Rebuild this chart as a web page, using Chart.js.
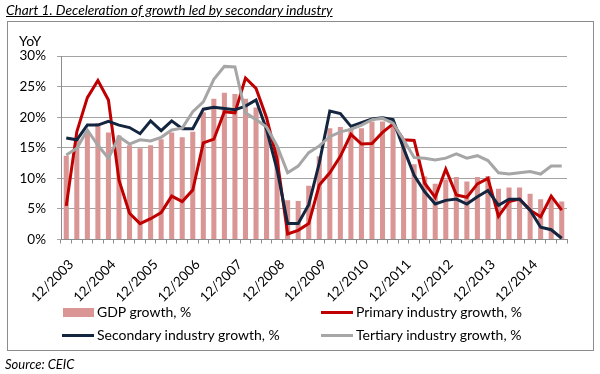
<!DOCTYPE html>
<html>
<head>
<meta charset="utf-8">
<script src="https://cdn.jsdelivr.net/npm/chart.js@4.4.1/dist/chart.umd.min.js"></script>
<style>
    body { margin: 0; background: #fff; font-family: Lato, sans-serif; color: #000; }
    #caixa { position: relative; width: 600px; height: 374px; overflow: hidden; }
    #moldura { position: absolute; left: 7px; top: 21px; width: 585px; height: 328px; border: 1px solid #8c8c8c; }
    #grafico { position: absolute; left: 0; top: 0; }
    #titulo { position: absolute; left: 6px; top: 1px; font-size: 13.7px; font-style: italic; text-decoration: underline; white-space: nowrap; }
    #yoy { position: absolute; left: 19px; top: 32px; font-size: 14px; }
    #fonte { position: absolute; left: 5px; top: 356px; font-size: 13px; font-style: italic; }
    .leg { position: absolute; font-size: 14px; white-space: nowrap; line-height: 16px; }
    .amostra { position: absolute; }
</style>
</head>
<body>
<div id="caixa">
    <div id="moldura"></div>
    <canvas id="grafico" width="600" height="374"></canvas>
    <div id="titulo">Chart 1. Deceleration of growth led by secondary industry</div>
    <div id="yoy">YoY</div>

    <div class="amostra" style="left:63px; top:308px; width:31px; height:9px; background:#D99694;"></div>
    <div class="leg" style="left:97px; top:304px;">GDP growth, %</div>
    <div class="amostra" style="left:321px; top:311px; width:32px; height:3px; background:#C00000;"></div>
    <div class="leg" style="left:356px; top:304px;">Primary industry growth, %</div>
    <div class="amostra" style="left:62px; top:334px; width:32px; height:3px; background:#14253F;"></div>
    <div class="leg" style="left:97px; top:327px;">Secondary industry growth, %</div>
    <div class="amostra" style="left:321px; top:334px; width:32px; height:3px; background:#A6A6A6;"></div>
    <div class="leg" style="left:356px; top:327px;">Tertiary industry growth, %</div>

    <div id="fonte">Source: CEIC</div>
</div>
<script>
const trimestres = [
    '12/2003',
    '3/2004', '6/2004', '9/2004', '12/2004',
    '3/2005', '6/2005', '9/2005', '12/2005',
    '3/2006', '6/2006', '9/2006', '12/2006',
    '3/2007', '6/2007', '9/2007', '12/2007',
    '3/2008', '6/2008', '9/2008', '12/2008',
    '3/2009', '6/2009', '9/2009', '12/2009',
    '3/2010', '6/2010', '9/2010', '12/2010',
    '3/2011', '6/2011', '9/2011', '12/2011',
    '3/2012', '6/2012', '9/2012', '12/2012',
    '3/2013', '6/2013', '9/2013', '12/2013',
    '3/2014', '6/2014', '9/2014', '12/2014',
    '3/2015', '6/2015', '9/2015'
];

// % yoy
const crescimentoPib = [13.7, 16.5, 17.5, 19.0, 17.5, 17.0, 15.4, 14.9, 15.4, 16.4, 17.5, 16.7,
    17.6, 20.8, 23.0, 24.0, 23.8, 23.0, 21.6, 19.0, 15.0, 6.4, 6.3, 8.8,
    13.6, 18.2, 18.4, 18.2, 18.2, 19.3, 19.3, 19.2, 16.2, 12.3, 10.3, 9.1,
    9.8, 10.2, 9.5, 10.2, 10.4, 8.3, 8.5, 8.5, 7.5, 6.6, 6.6, 6.2];

const crescimentoPrimario = [5.5, 17.6, 23.2, 26.0, 22.8, 9.7, 4.3, 2.6, 3.4, 4.4, 7.1, 6.2,
    8.1, 15.8, 16.4, 20.9, 20.7, 26.4, 24.7, 19.9, 13.1, 0.9, 1.5, 2.6,
    8.9, 10.9, 13.6, 17.2, 15.6, 15.7, 17.5, 18.9, 16.3, 16.2, 9.2, 6.9,
    11.5, 7.3, 6.9, 9.1, 10.0, 3.8, 6.2, 6.6, 4.8, 3.7, 7.1, 4.8];

const crescimentoSecundario = [16.6, 16.3, 18.7, 18.7, 19.3, 18.7, 18.3, 17.3, 19.4, 17.8, 19.4, 18.1,
    18.1, 21.3, 21.6, 21.4, 21.2, 21.8, 22.8, 18.0, 11.4, 2.6, 2.6, 5.7,
    12.5, 21.0, 20.6, 18.5, 19.1, 19.7, 19.9, 19.6, 14.9, 10.5, 7.8, 5.8,
    6.4, 6.6, 5.8, 7.0, 8.0, 5.6, 6.6, 6.6, 4.8, 2.0, 1.6, 0.2];

const crescimentoTerciario = [13.8, 14.9, 17.9, 15.4, 13.3, 16.8, 15.6, 16.3, 16.1, 16.7, 17.9, 18.2,
    20.9, 22.5, 26.2, 28.3, 28.2, 20.7, 19.6, 18.4, 15.3, 10.9, 12.0, 14.2,
    15.3, 16.8, 17.6, 18.0, 18.7, 19.6, 19.8, 19.0, 16.3, 13.4, 13.3, 13.0,
    13.3, 14.0, 13.3, 13.7, 12.9, 10.9, 10.7, 10.9, 11.1, 10.7, 12.0, 12.0];

new Chart(document.getElementById('grafico'), {
    type: 'bar',
    data: {
        labels: trimestres,
        datasets: [{
            type: 'line',
            label: 'Tertiary industry growth, %',
            data: crescimentoTerciario,
            borderColor: '#A6A6A6',
            borderWidth: 3,
            pointRadius: 0,
            tension: 0,
            order: 1
        }, {
            type: 'line',
            label: 'Secondary industry growth, %',
            data: crescimentoSecundario,
            borderColor: '#14253F',
            borderWidth: 3,
            pointRadius: 0,
            tension: 0,
            order: 2
        }, {
            type: 'line',
            label: 'Primary industry growth, %',
            data: crescimentoPrimario,
            borderColor: '#C00000',
            borderWidth: 3,
            pointRadius: 0,
            tension: 0,
            order: 3
        }, {
            label: 'GDP growth, %',
            data: crescimentoPib,
            backgroundColor: '#D99694',
            categoryPercentage: 1,
            barPercentage: 0.48,
            order: 4
        }]
    },
    options: {
        responsive: false,
        animation: false,
        layout: { padding: { top: 56, right: 33, left: 0, bottom: 0 } },
        plugins: {
            legend: { display: false },
            tooltip: { enabled: false }
        },
        scales: {
            x: {
                grid: { drawOnChartArea: false, tickLength: 4, color: '#8c8c8c' },
                border: { color: '#8c8c8c' },
                ticks: {
                    autoSkip: false,
                    maxRotation: 45,
                    minRotation: 45,
                    padding: 13,
                    labelOffset: 5,
                    color: '#000',
                    font: { family: 'Lato', size: 13.5 },
                    callback: function (valor, i) {
                        const rotulo = trimestres[i];
                        return rotulo.startsWith('12/') ? rotulo : '';
                    }
                },
                afterFit: function (escala) { escala.height = 134.5; }
            },
            y: {
                min: 0,
                max: 30,
                grid: { color: '#a3a3a3', tickLength: 4 },
                border: { color: '#8c8c8c' },
                ticks: {
                    stepSize: 5,
                    padding: 11,
                    color: '#000',
                    font: { family: 'Lato', size: 13.5 },
                    callback: (v) => v + '%'
                },
                afterFit: function (escala) { escala.width = 61; }
            }
        }
    }
});
</script>
</body>
</html>
